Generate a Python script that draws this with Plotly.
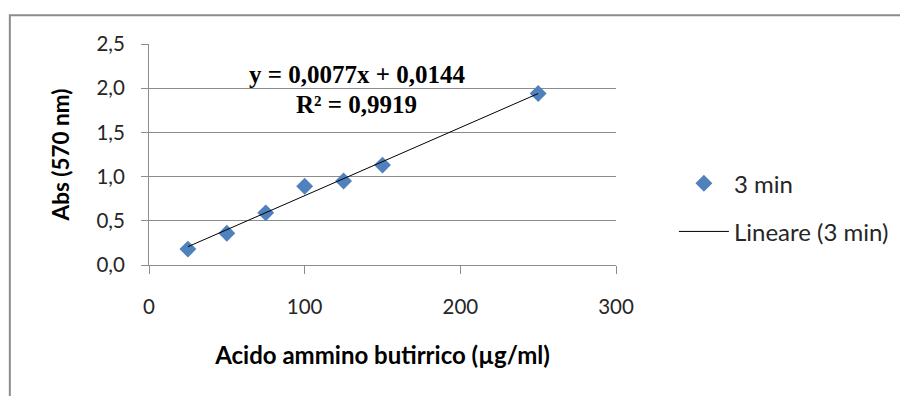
import plotly.graph_objects as go

# Calibration data: amino butyric acid concentration vs absorbance at 570 nm
concentration = [25, 50, 75, 100, 125, 150, 250]
absorbance = [0.18, 0.36, 0.59, 0.89, 0.95, 1.13, 1.94]

# Linear fit reported on the chart
slope = 0.0077
intercept = 0.0144
r_squared = 0.9919

x_ticks = [0, 100, 200, 300]
y_ticks = [0.0, 0.5, 1.0, 1.5, 2.0, 2.5]

fit_x = [min(concentration), max(concentration)]
fit_y = [slope * v + intercept for v in fit_x]

tick_font = dict(family="Lato", size=20.5, color="#262626")
title_font = dict(family="Lato", size=24, color="#000000")
eq_font = dict(family="Liberation Serif", size=25, color="#000000")

fig = go.Figure()
fig.add_trace(go.Scatter(
    x=concentration, y=absorbance, mode="markers", name="3 min",
    marker=dict(symbol="diamond", size=13, color="#4F81BD"),
    legendgroup="a",
))
fig.add_trace(go.Scatter(
    x=fit_x, y=fit_y, mode="lines", name="Lineare (3 min)",
    line=dict(color="#000000", width=1),
    legendgroup="b",
))

# regression equation and coefficient of determination
fig.add_annotation(
    xref="paper", yref="paper", x=0.445, y=0.86, yanchor="middle",
    showarrow=False, text="<b>y = 0,0077x + 0,0144</b>", font=eq_font,
)
fig.add_annotation(
    xref="paper", yref="paper", x=0.445, y=0.728, yanchor="middle",
    showarrow=False, text=f"<b>R² = {r_squared:.4f}</b>".replace(".", ","),
    font=eq_font,
)

# outer chart frame
fig.add_shape(type="rect", xref="paper", yref="paper",
              x0=-0.298, y0=-0.9, x1=1.8, y1=1.13,
              line=dict(color="#8c8c8c", width=2), layer="below")

fig.update_layout(
    width=900, height=396,
    margin=dict(l=149, r=284, t=44, b=131, autoexpand=False),
    paper_bgcolor="white", plot_bgcolor="white",
    separators=",.",
    showlegend=True,
    legend=dict(x=1.124, y=0.47, xanchor="left", yanchor="top",
                font=dict(family="Lato", size=24, color="#262626"),
                itemwidth=50, tracegroupgap=14, traceorder="grouped",
                bgcolor="rgba(0,0,0,0)"),
    xaxis=dict(range=[0, 300], tickvals=x_ticks, showgrid=False,
               showline=True, linecolor="#8c8c8c", linewidth=1,
               ticks="outside", ticklen=8, tickcolor="#8c8c8c",
               tickfont=tick_font, ticklabelstandoff=15,
               zeroline=False,
               title=dict(text="<b>Acido ammino butirrico (µg/ml)</b>",
                          font=title_font, standoff=30)),
    yaxis=dict(range=[0, 2.5], tickvals=y_ticks, tickformat=".1f",
               showgrid=True, gridcolor="#8c8c8c", gridwidth=1,
               showline=True, linecolor="#8c8c8c", linewidth=1,
               ticks="outside", ticklen=7, tickcolor="#8c8c8c",
               tickfont=tick_font, ticklabelstandoff=12,
               zeroline=False,
               title=dict(text="<b>Abs (570 nm)</b>",
                          font=dict(family="Lato", size=22.5, color="#000000"),
                          standoff=20)),
)

fig.write_html("out.html")
